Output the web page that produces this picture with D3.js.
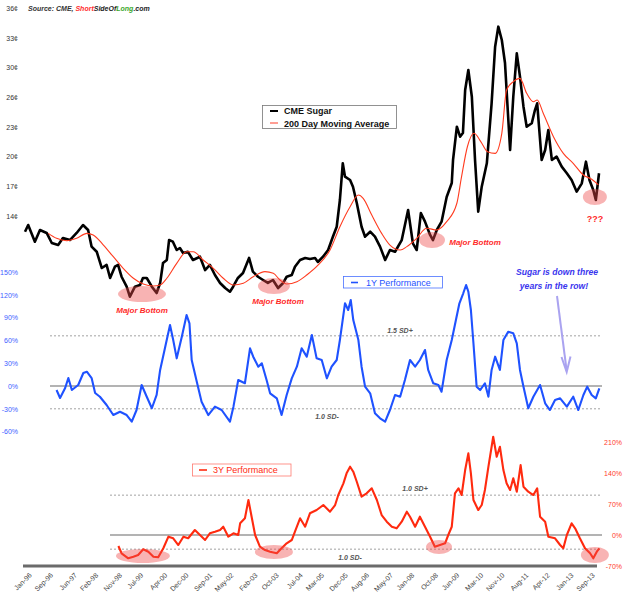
<!DOCTYPE html>
<html><head><meta charset="utf-8">
<script src="https://cdn.jsdelivr.net/npm/d3@7"></script>
<style>body{margin:0;background:#fff}svg{display:block}text{font-family:"Liberation Sans",Arial,sans-serif}</style>
</head><body><svg id="c" width="625" height="595"></svg>
<script>
const xTickLabels = ["Jan-96","Sep-96","Jun-97","Feb-98","Nov-98","Jul-99","Apr-00","Dec-00","Sep-01","May-02","Feb-03","Oct-03","Jul-04","Mar-05","Dec-05","Aug-06","May-07","Jan-08","Oct-08","Jun-09","Mar-10","Nov-10","Aug-11","Apr-12","Jan-13","Sep-13"];
const priceTickValues = [14.1,17.2,20.3,23.4,26.5,29.6,32.7,35.8];
const priceTickLabels = ["14¢","17¢","20¢","23¢","26¢","30¢","33¢","36¢"];
const perf1TickValues = [-60,-30,0,30,60,90,120,150];
const perf3TickValues = [-70,0,70,140,210];
const perf1Bands = [66,-30];
const perf3Bands = [90,-32];

const priceDates = [1996.00,1996.10,1996.31,1996.47,1996.68,1996.84,1997.04,1997.19,1997.41,1997.62,1997.82,1997.98,1998.09,1998.25,1998.41,1998.56,1998.67,1998.82,1998.92,1999.03,1999.19,1999.29,1999.45,1999.61,1999.70,1999.82,1999.98,2000.13,2000.24,2000.33,2000.45,2000.52,2000.64,2000.76,2000.86,2000.96,2001.11,2001.27,2001.49,2001.65,2001.80,2001.96,2002.12,2002.28,2002.43,2002.53,2002.68,2002.84,2003.03,2003.15,2003.31,2003.47,2003.62,2003.78,2003.94,2004.10,2004.21,2004.37,2004.47,2004.63,2004.79,2004.94,2005.10,2005.19,2005.35,2005.51,2005.66,2005.78,2005.88,2005.97,2006.04,2006.20,2006.29,2006.41,2006.56,2006.67,2006.83,2006.98,2007.14,2007.30,2007.45,2007.61,2007.82,2008.02,2008.17,2008.29,2008.42,2008.55,2008.71,2008.80,2008.92,2009.07,2009.23,2009.39,2009.43,2009.55,2009.65,2009.74,2009.81,2009.91,2010.02,2010.12,2010.22,2010.33,2010.49,2010.64,2010.75,2010.85,2010.96,2011.06,2011.22,2011.32,2011.43,2011.53,2011.64,2011.74,2011.90,2012.00,2012.07,2012.21,2012.32,2012.42,2012.53,2012.68,2012.84,2013.00,2013.15,2013.31,2013.47,2013.60,2013.71,2013.83,2013.91,2014.01];
const priceValues = [12.46,13.16,11.42,12.64,12.33,11.28,11.07,11.80,11.59,12.33,13.16,12.64,10.90,10.37,8.67,8.99,7.63,8.81,8.99,7.76,6.72,5.68,6.72,6.90,7.63,7.63,6.72,6.06,7.11,9.19,9.51,11.59,11.42,10.55,10.76,10.24,10.37,9.51,9.85,8.46,8.99,7.94,7.11,6.58,6.20,6.72,7.63,8.15,9.72,8.29,7.76,7.42,7.11,7.42,6.58,7.11,7.76,7.94,8.81,9.51,9.72,9.61,9.72,9.30,9.85,10.55,11.94,12.98,15.77,19.60,18.20,17.86,17.16,15.46,12.98,11.94,12.46,11.94,10.90,9.51,10.55,10.37,11.59,14.73,11.25,10.55,14.41,13.51,12.12,11.59,12.64,13.51,16.08,17.54,19.95,23.42,22.38,22.76,27.25,29.34,26.55,19.95,14.55,17.16,19.60,25.86,31.77,33.86,32.47,30.07,20.99,26.55,31.08,28.64,25.51,23.42,23.78,25.16,25.86,19.95,20.99,23.08,19.95,20.29,19.25,18.56,17.86,16.64,17.51,19.77,17.86,16.81,15.77,18.56];

const maDates = [1996.73,1996.99,1997.31,1997.62,1997.94,1998.14,1998.46,1998.77,1999.08,1999.40,1999.71,2000.03,2000.24,2000.45,2000.76,2001.07,2001.28,2001.59,2001.91,2002.22,2002.54,2002.85,2003.16,2003.53,2003.79,2004.00,2004.21,2004.53,2004.84,2005.20,2005.57,2005.88,2006.20,2006.46,2006.61,2006.88,2007.19,2007.45,2007.77,2007.98,2008.29,2008.60,2008.92,2009.23,2009.55,2009.69,2009.88,2010.09,2010.30,2010.51,2010.75,2010.96,2011.11,2011.32,2011.53,2011.74,2011.95,2012.07,2012.26,2012.58,2012.89,2013.20,2013.52,2013.78,2013.99];
const maValues = [12.29,11.77,11.52,11.77,12.29,12.12,11.07,9.85,8.64,7.60,7.00,6.79,6.90,7.60,9.16,10.37,10.37,9.51,8.64,7.60,6.90,7.08,7.76,8.29,8.12,7.42,7.00,7.24,7.94,8.99,10.55,12.98,15.07,16.29,15.95,14.20,12.29,11.07,10.55,10.90,11.77,12.82,12.64,13.51,15.43,18.07,21.33,22.73,21.86,20.81,20.64,22.73,27.25,28.12,28.47,26.91,26.03,26.21,24.82,22.38,20.64,19.60,18.38,17.93,17.34];

const perf1Dates = [1996.99,1997.10,1997.26,1997.36,1997.47,1997.67,1997.83,1997.94,1998.09,1998.20,1998.35,1998.56,1998.77,1998.98,1999.19,1999.35,1999.50,1999.66,1999.82,1999.98,2000.13,2000.24,2000.39,2000.55,2000.65,2000.76,2000.92,2001.07,2001.16,2001.23,2001.39,2001.54,2001.75,2001.96,2002.17,2002.43,2002.54,2002.69,2002.90,2003.06,2003.16,2003.32,2003.43,2003.58,2003.69,2003.90,2004.05,2004.21,2004.37,2004.53,2004.68,2004.84,2005.00,2005.15,2005.31,2005.47,2005.62,2005.78,2005.88,2006.04,2006.14,2006.22,2006.30,2006.46,2006.56,2006.67,2006.83,2006.98,2007.14,2007.30,2007.45,2007.61,2007.77,2007.92,2008.08,2008.24,2008.39,2008.55,2008.65,2008.81,2008.97,2009.07,2009.23,2009.39,2009.52,2009.63,2009.75,2009.84,2009.91,2009.99,2010.07,2010.17,2010.28,2010.43,2010.54,2010.64,2010.75,2010.90,2011.01,2011.16,2011.32,2011.43,2011.53,2011.64,2011.79,2011.95,2012.16,2012.32,2012.47,2012.63,2012.79,2013.00,2013.20,2013.36,2013.52,2013.64,2013.78,2013.91,2014.02];
const perf1Values = [-5.3,-15.8,-2.6,10.5,-5.3,1.3,17.1,18.8,10.5,-9.2,-14.1,-25.0,-38.2,-33.8,-38.2,-47.0,-31.6,1.3,-14.1,-29.3,-11.8,21.1,49.6,80.3,60.5,36.4,64.9,93.4,82.5,34.2,5.7,-20.7,-38.2,-27.2,-31.6,-47.0,-27.2,7.9,3.6,49.6,38.6,25.4,29.9,7.9,-9.6,-16.2,-38.2,-11.8,10.1,25.4,49.6,38.6,67.1,36.4,34.2,10.1,25.4,34.2,60.5,108.8,100.0,113.2,86.8,60.5,25.4,-0.9,-9.6,-35.9,-42.5,-47.0,-31.6,-11.8,-14.1,7.9,34.2,25.4,34.2,47.4,21.1,3.6,1.3,-7.5,34.2,60.5,86.8,108.8,122.0,132.9,124.1,100.0,56.2,-0.9,-5.3,3.6,-14.1,21.1,38.6,21.1,60.5,71.4,69.3,56.2,21.1,-0.9,-29.3,-14.1,1.3,-22.8,-31.6,-18.4,-16.2,-27.2,-14.1,-31.6,-11.8,-0.9,-11.8,-16.2,-3.0];

const perf3Dates = [1998.93,1999.03,1999.24,1999.40,1999.55,1999.71,1999.87,2000.03,2000.18,2000.34,2000.50,2000.65,2000.81,2000.97,2001.12,2001.33,2001.49,2001.65,2001.80,2001.96,2002.12,2002.22,2002.38,2002.54,2002.69,2002.75,2002.90,2003.01,2003.11,2003.22,2003.37,2003.53,2003.69,2003.90,2004.05,2004.21,2004.37,2004.47,2004.63,2004.79,2004.94,2005.15,2005.36,2005.57,2005.73,2005.83,2005.99,2006.09,2006.20,2006.30,2006.41,2006.56,2006.72,2006.88,2007.04,2007.19,2007.35,2007.51,2007.66,2007.82,2007.98,2008.08,2008.24,2008.39,2008.55,2008.71,2008.86,2009.02,2009.18,2009.28,2009.39,2009.49,2009.60,2009.70,2009.81,2009.91,2009.99,2010.07,2010.22,2010.33,2010.43,2010.54,2010.64,2010.69,2010.80,2010.90,2011.01,2011.11,2011.22,2011.32,2011.43,2011.55,2011.64,2011.79,2011.95,2012.07,2012.16,2012.32,2012.42,2012.63,2012.79,2012.89,2013.00,2013.15,2013.26,2013.41,2013.57,2013.73,2013.83,2013.94,2014.02];
const perf3Values = [-24.8,-41.3,-52.6,-49.0,-45.1,-32.3,-37.7,-49.0,-50.3,-30.0,-3.8,-7.4,-22.6,-3.8,-7.4,11.3,0,-11.3,3.8,7.4,11.3,18.7,-3.8,3.8,0,26.4,37.7,79.0,41.3,0,-26.4,-33.9,-37.7,-41.3,-30.0,-18.7,-11.3,7.4,37.7,18.7,49.0,56.4,67.7,52.6,67.7,90.3,116.7,139.3,154.2,142.9,120.3,86.5,94.1,105.4,79.0,45.1,30.0,18.7,15.1,30.0,52.6,41.3,18.7,41.3,18.7,-3.8,-26.4,-22.6,-18.7,0,18.7,94.1,105.4,90.3,146.7,184.4,139.3,79.0,56.4,67.7,101.6,154.2,199.3,221.9,176.7,199.3,146.7,116.7,101.6,128.0,97.7,158.0,109.0,97.7,90.3,105.4,41.3,30.0,-3.8,-7.4,-22.6,-30.0,0,26.4,15.1,-7.4,-30.0,-41.3,-52.6,-37.7,-30.0];

// annotations: [date, value, rx, ry]
const priceBottoms = [[1999.67,5.96,24,8],[2003.81,6.79,16,8],[2008.77,11.59,13,8],[2013.88,16.08,12,8]];
const perf3Bottoms = [[1999.70,-47.4,27,7],[2003.81,-38.4,19,7],[2008.99,-27.1,13,7],[2013.88,-45.1,14,8]];

const svg = d3.select("#c");
const x = d3.scaleLinear().domain([1996, 2014]).range([25, 598.7]);
const yP = d3.scaleLinear().domain([14.1, 35.8]).range([216, 8.1]);
const y1 = d3.scaleLinear().domain([-60, 150]).range([431.6, 272]);
const y3 = d3.scaleLinear().domain([-70, 210]).range([566, 442]);

const mon = {Jan:0,Feb:1,Mar:2,Apr:3,May:4,Jun:5,Jul:6,Aug:7,Sep:8,Oct:9,Nov:10,Dec:11};
const tickT = xTickLabels.map(s => { const [m, yy] = s.split("-"); const y = +yy > 50 ? 1900 + +yy : 2000 + +yy; return y + mon[m] / 12; });

// reference lines
const ref = svg.append("g");
ref.append("line").attr("x1",50).attr("x2",602).attr("y1",y1(0)).attr("y2",y1(0)).attr("stroke","#9a9a9a").attr("stroke-width",1.5);
perf1Bands.forEach(v => ref.append("line").attr("x1",50).attr("x2",602).attr("y1",y1(v)).attr("y2",y1(v)).attr("stroke","#8a8a8a").attr("stroke-width",0.8).attr("stroke-dasharray","2,2"));
ref.append("line").attr("x1",110).attr("x2",602).attr("y1",y3(0)).attr("y2",y3(0)).attr("stroke","#9a9a9a").attr("stroke-width",1.5);
perf3Bands.forEach(v => ref.append("line").attr("x1",110).attr("x2",602).attr("y1",y3(v)).attr("y2",y3(v)).attr("stroke","#8a8a8a").attr("stroke-width",0.8).attr("stroke-dasharray","2,2"));

// bottom axis
svg.append("line").attr("x1",23).attr("x2",597).attr("y1",566).attr("y2",566).attr("stroke","#6b6b6b").attr("stroke-width",3);
const xa = svg.append("g").attr("transform","translate(0,566)")
  .call(d3.axisBottom(x).tickValues(tickT).tickFormat((d,i)=>xTickLabels[i]).tickSize(0).tickSizeOuter(0));
xa.select(".domain").remove();
xa.selectAll("text").attr("x",0).attr("y",0).attr("dy","0.35em")
  .attr("transform","translate(5,8) rotate(-45)").style("text-anchor","end")
  .style("font-size","7px").style("font-family","Liberation Sans").attr("fill","#444");

function leftAxis(scale, vals, fmt, color, xpos) {
  const g = svg.append("g").attr("transform",`translate(${xpos},0)`)
    .call(d3.axisLeft(scale).tickValues(vals).tickFormat(fmt).tickSize(0).tickPadding(2));
  g.select(".domain").remove();
  g.selectAll("text").attr("fill",color).style("font-size","7px").style("font-family","Liberation Sans");
}
leftAxis(yP, priceTickValues, (d,i)=>priceTickLabels[i], "#333", 20);
leftAxis(y1, perf1TickValues, d=>d+"%", "#4060ff", 20);
leftAxis(y3, perf3TickValues, d=>d+"%", "#ff3a2a", 624);

const line = (ys) => d3.line().x(d=>x(d[0])).y(d=>ys(d[1])).curve(d3.curveLinear);

svg.append("path").datum(d3.zip(priceDates, priceValues)).attr("d", line(yP))
  .attr("fill","none").attr("stroke","#000").attr("stroke-width",2.6).attr("stroke-linejoin","round");
svg.append("path").datum(d3.zip(maDates, maValues)).attr("d", line(yP).curve(d3.curveMonotoneX))
  .attr("fill","none").attr("stroke","#ff3b1f").attr("stroke-width",1.1);
svg.append("path").datum(d3.zip(perf1Dates, perf1Values)).attr("d", line(y1))
  .attr("fill","none").attr("stroke","#1f52ff").attr("stroke-width",2.1).attr("stroke-linejoin","round");
svg.append("path").datum(d3.zip(perf3Dates, perf3Values)).attr("d", line(y3))
  .attr("fill","none").attr("stroke","#ff2a0f").attr("stroke-width",2.1).attr("stroke-linejoin","round");

// ellipses
priceBottoms.forEach(d => svg.append("ellipse").attr("cx",x(d[0])).attr("cy",yP(d[1])).attr("rx",d[2]).attr("ry",d[3]).attr("fill","#ee4a4a").attr("fill-opacity",0.42));
perf3Bottoms.forEach(d => svg.append("ellipse").attr("cx",x(d[0])).attr("cy",y3(d[1])).attr("rx",d[2]).attr("ry",d[3]).attr("fill","#ee4a4a").attr("fill-opacity",0.42));

// annotations
const ann = (t, xx, yy, opts) => {
  const e = svg.append("text").attr("x",xx).attr("y",yy).text(t);
  Object.entries(opts).forEach(([k,v]) => e.style(k,v));
  return e;
};
const mb = {"font-size":"8px","font-weight":"bold","font-style":"italic","fill":"#ff2a2a","text-anchor":"middle"};
ann("Major Bottom", 142, 313, mb);
ann("Major Bottom", 278, 304, mb);
ann("Major Bottom", 475, 245, mb);
ann("???", 595, 221.5, {"font-size":"9px","font-weight":"bold","fill":"#ff2a2a","text-anchor":"middle"});
const sd = {"font-size":"7px","font-weight":"bold","font-style":"italic","fill":"#555","text-anchor":"middle"};
ann("1.5 SD+", 400, 332.5, sd);
ann("1.0 SD-", 327, 418.5, sd);
ann("1.0 SD+", 415, 490.5, sd);
ann("1.0 SD-", 350, 559.5, sd);
const bl = {"font-size":"8.6px","font-weight":"bold","font-style":"italic","fill":"#3a35ee","text-anchor":"middle"};
ann("Sugar is down three", 557, 275, bl);
ann("years in the row!", 554, 288.5, bl);

// arrow
svg.append("line").attr("x1",557).attr("y1",296).attr("x2",566.7).attr("y2",371).attr("stroke","#aaa3f0").attr("stroke-width",2);
svg.append("path").attr("d","M561.5,357 L566.7,372 L570.5,356.5").attr("fill","none").attr("stroke","#aaa3f0").attr("stroke-width",2);

// source
const src = svg.append("text").attr("x",28).attr("y",11).style("font-size","7px").style("font-weight","bold").style("font-style","italic");
src.append("tspan").attr("fill","#333").text("Source: CME, ");
src.append("tspan").attr("fill","#ff2a2a").text("Short");
src.append("tspan").attr("fill","#222").text("SideOf");
src.append("tspan").attr("fill","#3aa82a").text("Long");
src.append("tspan").attr("fill","#222").text(".com");

// legends
const lg1 = svg.append("g");
lg1.append("rect").attr("x",262.5).attr("y",105.5).attr("width",134).attr("height",23).attr("fill","#fff").attr("stroke","#777").attr("stroke-width",0.8);
lg1.append("line").attr("x1",270).attr("x2",278).attr("y1",111).attr("y2",111).attr("stroke","#000").attr("stroke-width",2);
lg1.append("line").attr("x1",270).attr("x2",278).attr("y1",123).attr("y2",123).attr("stroke","#ff6a5a").attr("stroke-width",1.3);
lg1.append("text").attr("x",284).attr("y",114.3).text("CME Sugar").style("font-size","9px").style("font-weight","bold").attr("fill","#111");
lg1.append("text").attr("x",284).attr("y",126.5).text("200 Day Moving Average").style("font-size","9px").style("font-weight","bold").attr("fill","#111");

const lg2 = svg.append("g");
lg2.append("rect").attr("x",343.5).attr("y",276.5).attr("width",99).attr("height",11.5).attr("fill","#fff").attr("stroke","#4a72ff").attr("stroke-width",0.8);
lg2.append("line").attr("x1",351).attr("x2",358).attr("y1",282.5).attr("y2",282.5).attr("stroke","#1f52ff").attr("stroke-width",1.6);
lg2.append("text").attr("x",366).attr("y",285.8).text("1Y Performance").style("font-size","9px").attr("fill","#1f52ff");

const lg3 = svg.append("g");
lg3.append("rect").attr("x",192.5).attr("y",464).attr("width",98.5).attr("height",12).attr("fill","#fff").attr("stroke","#ff7a70").attr("stroke-width",0.8);
lg3.append("line").attr("x1",199).attr("x2",207).attr("y1",470).attr("y2",470).attr("stroke","#ff2a0f").attr("stroke-width",1.6);
lg3.append("text").attr("x",213).attr("y",473.3).text("3Y Performance").style("font-size","9px").attr("fill","#ff2a0f");
</script></body></html>
